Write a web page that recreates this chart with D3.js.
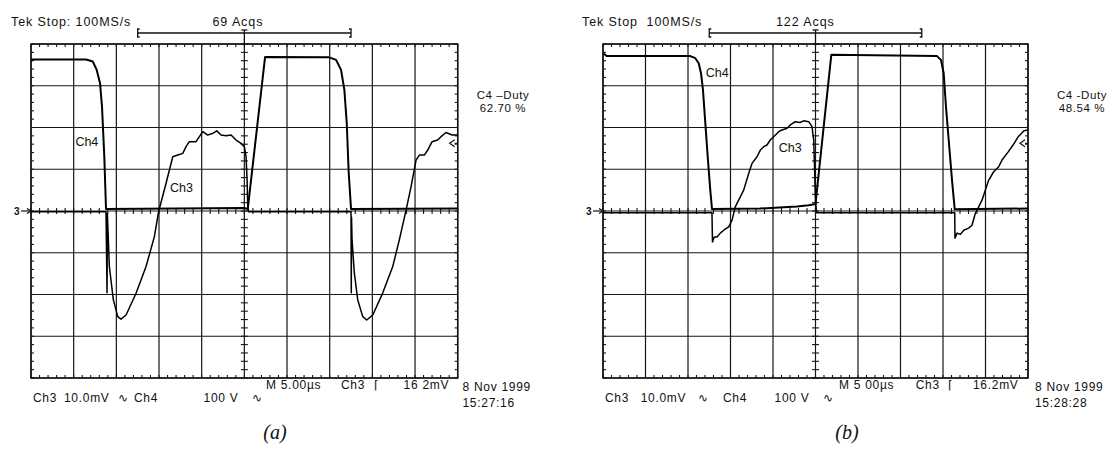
<!DOCTYPE html>
<html><head><meta charset="utf-8">
<script src="https://cdn.jsdelivr.net/npm/d3@7"></script>
<style>
body{margin:0;background:#fff}
svg{display:block}
text{font-family:"Liberation Sans",Arial,sans-serif;fill:#111;white-space:pre}
</style>
</head><body>
<svg id="c" width="1114" height="453"></svg>
<script>
// ---------------- DATA ----------------
// time axis in µs (5 µs/div, trigger at centre), Ch3 in mV (10 mV/div), Ch4 in V (100 V/div)
const timeTicks = [-25,-20,-15,-10,-5,0,5,10,15,20,25];
const ch3Ticks = [-40,-30,-20,-10,0,10,20,30,40];
const recordSpan = [-12.5, 12.5];
const trigLevel = 16.2;

const ch4A = [[-25,363],[-18.55,363],[-17.76,358],[-17.3,338],[-16.91,306],[-16.68,250],[-16.41,130],[-16.21,5],[-8,6],[0,7],[0.4,5],[2.43,369],[9.93,368],[10.75,362],[11.33,338],[11.72,290],[12.0,210],[12.23,91],[12.5,5],[25,6]];
const ch3A = [[-25,-0.2],[-16.21,-0.2],[-16.09,-19.6],[-16.05,-0.6],[-15.82,-13.3],[-15.35,-21.3],[-14.83,-25.3],[-14.45,-25.9],[-13.86,-24.9],[-12.69,-19.7],[-11.52,-13.3],[-10.55,-6.2],[-10.03,0],[-9.18,6.6],[-8.39,13.0],[-7.8,13.4],[-7.22,13.8],[-6.83,15.4],[-6.45,16.6],[-5.66,16.6],[-5.27,17.8],[-4.87,19.0],[-4.29,18.2],[-3.7,18.6],[-3.23,19.2],[-2.73,18.2],[-2.14,18.0],[-1.56,18.2],[-0.97,17.0],[-0.39,16.2],[0,15.4],[0.2,13.0],[0.32,7.4],[0.4,1.4],[0.49,-0.2],[12.5,-0.2],[12.53,-19.6],[12.56,-1.5],[12.62,-6.9],[12.89,-14.9],[13.29,-21.3],[13.87,-25.3],[14.34,-26.1],[15.05,-24.9],[16.22,-19.6],[17.39,-13.3],[18.16,-6.9],[18.95,0.2],[19.53,5.8],[20.12,12.2],[20.51,13.4],[21.09,13.4],[21.49,14.6],[22.0,16.6],[22.64,17.0],[23.05,17.8],[23.63,18.8],[24.34,18.2],[25,18.2]];

const ch4B = [[-25,378],[-24.53,371],[-14.73,371],[-14.14,366],[-13.74,354],[-13.47,330],[-13.24,290],[-12.96,210],[-12.68,130],[-12.38,50],[-12.18,5],[-6.53,6],[-2.18,11],[-0.8,14],[0,17],[1.86,374],[14.29,371],[14.76,362],[15.08,330],[15.35,250],[15.67,170],[16.06,74],[16.38,4],[25,6]];
const ch3B = [[-25,-0.4],[-12.18,-0.4],[-12.12,-7.4],[-11.91,-6.2],[-11.59,-6.2],[-11.2,-5.3],[-10.8,-4.6],[-10.21,-3.8],[-9.82,-2.2],[-9.44,1.0],[-9.04,2.6],[-8.45,5.0],[-7.86,9.0],[-7.47,11.4],[-6.88,13.0],[-6.49,14.6],[-6.09,15.4],[-5.71,15.8],[-5.32,17.0],[-4.92,17.8],[-4.33,19.0],[-3.94,19.4],[-3.35,19.8],[-2.96,20.6],[-2.38,21.4],[-1.82,21.2],[-1.39,21.6],[-0.8,21.4],[-0.41,20.2],[-0.21,17.0],[-0.09,9.0],[-0.02,3.4],[0.12,-0.4],[16.38,-0.4],[16.41,-6.5],[16.65,-5.3],[17.04,-5.6],[17.44,-4.6],[18.02,-4.1],[18.41,-3.4],[18.8,-0.6],[19.2,1.0],[19.59,2.6],[19.98,5.0],[20.38,7.4],[20.96,9.4],[21.55,10.6],[21.94,12.2],[22.65,14.1],[23.24,15.8],[23.82,17.7],[24.53,19.2],[25,19.4]];

const headerA = ["Tek Stop: 100MS/s", "69 Acqs"];
const headerB = ["Tek Stop\u00A0\u00A0100MS/s", "122 Acqs"];
const measA = ["C4 \u2013Duty", "62.70 %"];
const measB = ["C4 -Duty", "48.54 %"];
const setupLabels = ["Ch3", "10.0mV", "\u223F", "Ch4", "100 V", "\u223F"];
const timebaseA = ["M 5.00\u00B5s", "Ch3", "\u2308", "16 2mV"];
const timebaseB = ["M 5 00\u00B5s", "Ch3", "\u2308", "16.2mV"];
const stampA = ["8 Nov 1999", "15:27:16"];
const stampB = ["8 Nov 1999", "15:28:28"];
const captions = ["(a)", "(b)"];
// trace labels: [text, time µs, value in its channel units, channel]
const traceLabelsA = [["Ch4",-19.8,156,"ch4"],["Ch3",-8.7,4.6,"ch3"]];
const traceLabelsB = [["Ch4",-12.9,322,"ch4"],["Ch3",-4.33,14.2,"ch3"]];

// ---------------- LAYOUT ----------------
const TOP = 44, BOTTOM = 378;
const panels = [
  {left:31, right:457.7, ch3:ch3A, ch4:ch4A, header:headerA, meas:measA, timebase:timebaseA, stamp:stampA, caption:captions[0], labels:traceLabelsA,
   tekX:-20, acqsX:181.5, measCx:472, setupX:[2,33,87,103,172.6,221], tbX:[235,310,343,372.6], stampX:431.5, capCx:244},
  {left:603, right:1028, ch3:ch3B, ch4:ch4B, header:headerB, meas:measB, timebase:timebaseB, stamp:stampB, caption:captions[1], labels:traceLabelsB,
   tekX:-21, acqsX:173, measCx:479, setupX:[2,37.7,95,120,171.6,220], tbX:[236,312.7,345,370], stampX:432, capCx:244}
];

const svg = d3.select("#c");

function txt(g, s, x, y, size, opts={}) {
  const t = g.append("text").attr("x", x).attr("y", y).attr("font-size", size).text(s);
  if (opts.anchor) t.attr("text-anchor", opts.anchor);
  if (opts.ls) t.attr("letter-spacing", opts.ls);
  if (opts.family) t.style("font-family", opts.family);
  if (opts.italic) t.attr("font-style", "italic");
  return t;
}

panels.forEach(p => {
  const g = svg.append("g");
  const x = d3.scaleLinear().domain([-25,25]).range([p.left, p.right]);
  const y3 = d3.scaleLinear().domain([-40,40]).range([BOTTOM, TOP]);
  const y4 = d3.scaleLinear().domain([-400,400]).range([BOTTOM, TOP]);

  // graticule
  const grid = g.append("g").attr("stroke", "#161616").attr("stroke-width", 1.2);
  grid.selectAll(".v").data(timeTicks).join("line")
    .attr("x1", d => x(d)).attr("x2", d => x(d)).attr("y1", TOP).attr("y2", BOTTOM);
  grid.selectAll(".h").data(ch3Ticks).join("line")
    .attr("x1", x(-25)).attr("x2", x(25)).attr("y1", d => y3(d)).attr("y2", d => y3(d));
  g.append("rect").attr("x", x(-25)).attr("y", TOP).attr("width", x(25)-x(-25)).attr("height", BOTTOM-TOP)
    .attr("fill", "none").attr("stroke", "#111").attr("stroke-width", 1.5);

  const minorT = d3.range(-25, 25.001, 1);
  const minorV = d3.range(-40, 40.001, 2);
  const tk = g.append("g").attr("stroke", "#161616").attr("stroke-width", 1.1);
  // border ticks
  tk.selectAll(".tt").data(minorT).join("line").attr("x1", d=>x(d)).attr("x2", d=>x(d)).attr("y1", TOP).attr("y2", TOP+3);
  tk.selectAll(".tb").data(minorT).join("line").attr("x1", d=>x(d)).attr("x2", d=>x(d)).attr("y1", BOTTOM-3).attr("y2", BOTTOM);
  tk.selectAll(".tl").data(minorV).join("line").attr("y1", d=>y3(d)).attr("y2", d=>y3(d)).attr("x1", x(-25)).attr("x2", x(-25)+3);
  tk.selectAll(".tr").data(minorV).join("line").attr("y1", d=>y3(d)).attr("y2", d=>y3(d)).attr("x1", x(25)-3).attr("x2", x(25));
  // centre-axis ticks
  tk.selectAll(".cv").data(minorV).join("line").attr("y1", d=>y3(d)).attr("y2", d=>y3(d)).attr("x1", x(0)-3.5).attr("x2", x(0)+3.5);
  tk.selectAll(".ch").data(minorT).join("line").attr("x1", d=>x(d)).attr("x2", d=>x(d)).attr("y1", y3(0)-3).attr("y2", y3(0)+3);

  // traces
  const line4 = d3.line().x(d => x(d[0])).y(d => y4(d[1]));
  const line3 = d3.line().x(d => x(d[0])).y(d => y3(d[1]));
  g.append("path").datum(p.ch4).attr("d", line4).attr("fill", "none").attr("stroke", "#000").attr("stroke-width", 2).attr("stroke-linejoin", "round");
  g.append("path").datum(p.ch3).attr("d", line3).attr("fill", "none").attr("stroke", "#000").attr("stroke-width", 1.5).attr("stroke-linejoin", "round");

  // trace labels
  p.labels.forEach(l => {
    const yy = l[3] === "ch4" ? y4(l[2]) : y3(l[2]);
    txt(g, l[0], x(l[1]), yy, 12.5).attr("fill", "#000");
  });

  // ground marker (left) and trigger-level marker (right)
  txt(g, "3", x(-25) - 17, y3(0) + 4, 10).attr("font-weight", "bold");
  g.append("line").attr("x1", x(-25)-10).attr("x2", x(-25)).attr("y1", y3(0)).attr("y2", y3(0)).attr("stroke", "#111").attr("stroke-width", 1.2);
  g.append("path").attr("d", d3.line()([[x(-25)-4, y3(0)-2.5],[x(-25), y3(0)],[x(-25)-4, y3(0)+2.5]])).attr("fill", "none").attr("stroke", "#111").attr("stroke-width", 1.2);
  const ty = y3(trigLevel);
  g.append("path").attr("d", d3.line()([[x(25)-3, ty-3.5],[x(25)-8, ty],[x(25)-3, ty+3.5]])).attr("fill", "none").attr("stroke", "#111").attr("stroke-width", 1.2);
  g.append("line").attr("x1", x(25)-3).attr("x2", x(25)).attr("y1", ty).attr("y2", ty).attr("stroke", "#111").attr("stroke-width", 1.2);

  // record bracket + trigger T
  const by = 33;
  const br = g.append("g").attr("stroke", "#111").attr("stroke-width", 1.3).attr("fill", "none");
  br.append("line").attr("x1", x(recordSpan[0])).attr("x2", x(recordSpan[1])).attr("y1", by).attr("y2", by);
  br.append("path").attr("d", d3.line()([[x(recordSpan[0])+2, by-4],[x(recordSpan[0]), by-4],[x(recordSpan[0]), by+4],[x(recordSpan[0])+2, by+4]]));
  br.append("path").attr("d", d3.line()([[x(recordSpan[1])-2, by-4],[x(recordSpan[1]), by-4],[x(recordSpan[1]), by+4],[x(recordSpan[1])-2, by+4]]));
  br.append("line").attr("x1", x(0)-3).attr("x2", x(0)+3).attr("y1", by-3).attr("y2", by-3);
  br.append("line").attr("x1", x(0)).attr("x2", x(0)).attr("y1", by-3).attr("y2", TOP);

  // header texts
  txt(g, p.header[0], p.left + p.tekX, 26, 12.5, {ls: 0.9});
  txt(g, p.header[1], p.left + p.acqsX, 26, 12.5, {ls: 0.9});
  txt(g, p.meas[0], p.left + p.measCx, 99, 11.5, {anchor: "middle", ls: 0.6});
  txt(g, p.meas[1], p.left + p.measCx, 111.5, 11.5, {anchor: "middle", ls: 0.6});

  // bottom readouts
  setupLabels.forEach((s, i) => txt(g, s, p.left + p.setupX[i], 402, 12, {ls: 0.7}));
  p.timebase.forEach((s, i) => txt(g, s, p.left + p.tbX[i], 388.5, 12, {ls: 0.7}));
  txt(g, p.stamp[0], p.left + p.stampX, 391, 12, {ls: 0.7});
  txt(g, p.stamp[1], p.left + p.stampX, 407, 12, {ls: 0.7});

  // caption
  txt(g, p.caption, p.left + p.capCx, 439, 20, {anchor: "middle", italic: true, family: '"Liberation Serif","Times New Roman",serif'});
});
</script>
</body></html>
